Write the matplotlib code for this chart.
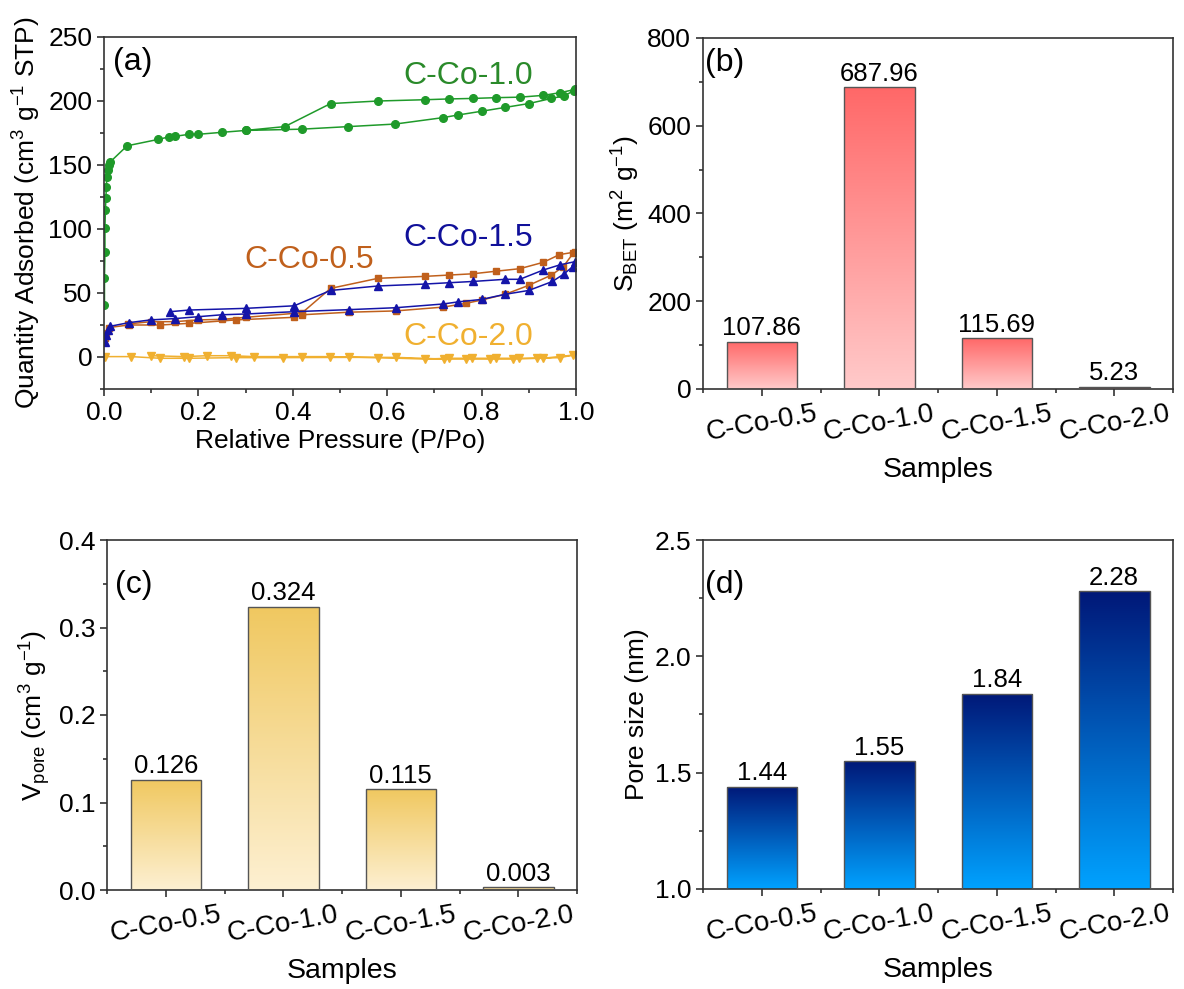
import numpy as np
import matplotlib
matplotlib.use('Agg')
import matplotlib.pyplot as plt
from matplotlib.colors import LinearSegmentedColormap
from matplotlib.ticker import MultipleLocator, FixedLocator, FormatStrFormatter

plt.rcParams['font.family'] = ['Liberation Sans', 'DejaVu Sans']
plt.rcParams['mathtext.fontset'] = 'custom'
plt.rcParams['mathtext.rm'] = 'Liberation Sans'
plt.rcParams['mathtext.it'] = 'Liberation Sans:italic'
plt.rcParams['mathtext.bf'] = 'Liberation Sans:bold'

# ---- data ----
samples = ['C-Co-0.5', 'C-Co-1.0', 'C-Co-1.5', 'C-Co-2.0']
s_bet = [107.86, 687.96, 115.69, 5.23]
v_pore = [0.126, 0.324, 0.115, 0.003]
pore_size = [1.44, 1.55, 1.84, 2.28]

# isotherms: adsorption branch then desorption branch (P/Po, quantity)
co10_p = [0.001, 0.001, 0.002, 0.002, 0.003, 0.004, 0.005, 0.006, 0.008, 0.010, 0.012,
          0.049, 0.115, 0.138, 0.150, 0.181, 0.200, 0.249, 0.300, 0.419, 0.518, 0.617,
          0.718, 0.749, 0.800, 0.850, 0.900, 0.948, 0.975, 0.995,
          0.998, 0.966, 0.931, 0.881, 0.830, 0.781, 0.730, 0.680, 0.581, 0.480, 0.383, 0.300]
co10_q = [41, 62, 82, 101, 115, 124, 133, 141, 146, 150, 152,
          165, 170, 172, 172.4, 174, 174, 175.5, 177, 178, 180, 182,
          187, 189, 192, 195, 198, 202, 204, 208,
          209, 206.5, 204.4, 203, 202.6, 202, 201.6, 201, 200, 198, 180, 177]

co05_p = [0.002, 0.005, 0.010, 0.052, 0.119, 0.181, 0.280, 0.403, 0.420, 0.519, 0.618,
          0.719, 0.768, 0.800, 0.850, 0.900, 0.948, 0.973, 0.994,
          0.998, 0.965, 0.931, 0.881, 0.830, 0.781, 0.730, 0.680, 0.581, 0.480, 0.420,
          0.300, 0.250, 0.200, 0.150, 0.099, 0.050]
co05_q = [15, 19, 23, 25, 25, 26.3, 29, 31, 33, 35, 36,
          39, 42, 44.5, 49, 56, 64, 70.6, 81,
          82, 80, 74, 69, 67, 65, 64, 63, 61.5, 53.6, 34.6,
          31, 29.4, 29, 27.6, 27.6, 25.8]

co15_p = [0.002, 0.005, 0.009, 0.013, 0.052, 0.099, 0.150, 0.200, 0.250, 0.300, 0.403,
          0.519, 0.618, 0.718, 0.749, 0.800, 0.850, 0.900, 0.950, 0.975, 0.993,
          0.998, 0.966, 0.931, 0.881, 0.850, 0.781, 0.730, 0.680, 0.581, 0.480, 0.403,
          0.300, 0.181, 0.140]
co15_q = [12, 17, 21, 24, 26.8, 29, 30, 31.5, 33, 33.6, 35.4,
          37, 38.5, 41.4, 43, 45, 49, 52, 59, 65, 70.6,
          74.5, 72, 68, 60.7, 60.7, 59, 58, 57, 55.5, 52, 40,
          38, 36.7, 35.4]

co20_p = [0.002, 0.058, 0.119, 0.180, 0.280, 0.380, 0.520, 0.618, 0.720, 0.768, 0.818, 0.867,
          0.917, 0.966, 0.994,
          0.930, 0.880, 0.830, 0.780, 0.730, 0.680, 0.580, 0.479, 0.419, 0.318, 0.270,
          0.218, 0.170, 0.099]
co20_q = [0.3, 0.3, -1, -1, -0.5, -0.5, -0.3, -0.3, -1.6, -1.6, -1.6, -1.6,
          -1, -0.5, 1.5,
          -1, -1, -1, -1, -1, -1.6, -0.5, 0.3, 0.3, 0.3, 1,
          1, 0.3, 1]

W, H = 1184, 989
fig = plt.figure(figsize=(W / 100, H / 100), dpi=100)
ax_a = fig.add_axes([104 / W, 1 - 389 / H, 472 / W, 352 / H])
ax_b = fig.add_axes([703 / W, 1 - 389 / H, 470 / W, 351 / H])
ax_c = fig.add_axes([107 / W, 1 - 890 / H, 470 / W, 350 / H])
ax_d = fig.add_axes([703 / W, 1 - 889 / H, 470 / W, 349 / H])

TICK_FS = 19
LABEL_FS = 19
spine_c = '#333333'


def style(ax):
    for s in ax.spines.values():
        s.set_color(spine_c)
        s.set_linewidth(1.2)
    ax.tick_params(which='both', direction='out', top=False, right=False,
                   color=spine_c, width=1.2, labelsize=TICK_FS)
    ax.tick_params(which='major', length=5)
    ax.tick_params(which='minor', length=3)


# ---- (a) isotherms ----
ax_a.plot(co10_p, co10_q, '-o', color='#1f9a2a', ms=5.5, lw=1.1)
ax_a.plot(co05_p, co05_q, '-s', color='#c0601c', ms=4.5, lw=1.1)
ax_a.plot(co15_p, co15_q, '-^', color='#1414a8', ms=5.5, lw=1.1)
ax_a.plot(co20_p, co20_q, '-v', color='#f0b030', ms=5.5, lw=1.1)
ax_a.set_xlim(0, 1.0)
ax_a.set_ylim(-25, 250)
ax_a.xaxis.set_major_locator(MultipleLocator(0.2))
ax_a.xaxis.set_minor_locator(MultipleLocator(0.1))
ax_a.yaxis.set_major_locator(MultipleLocator(50))
ax_a.yaxis.set_minor_locator(MultipleLocator(25))
ax_a.xaxis.set_major_formatter(FormatStrFormatter('%.1f'))
ax_a.set_xlabel('Relative Pressure (P/Po)', fontsize=LABEL_FS, labelpad=3)
ax_a.set_ylabel('Quantity Adsorbed (cm$^3$ g$^{-1}$ STP)', fontsize=LABEL_FS)
style(ax_a)
ax_a.text(0.771, 219.5, 'C-Co-1.0', color='#2a8a2a', fontsize=23, ha='center', va='center')
ax_a.text(0.771, 93, 'C-Co-1.5', color='#10109a', fontsize=23, ha='center', va='center')
ax_a.text(0.434, 76, 'C-Co-0.5', color='#c0601c', fontsize=23, ha='center', va='center')
ax_a.text(0.771, 15.6, 'C-Co-2.0', color='#f0b030', fontsize=23, ha='center', va='center')
ax_a.text(0.02, 0.93, '(a)', transform=ax_a.transAxes, fontsize=23, va='center', ha='left')


def grad_bars(ax, vals, ybot, c_top, c_bot, labels):
    cmap = LinearSegmentedColormap.from_list('g', [c_bot, c_top])
    xs = np.arange(len(vals))
    bars = ax.bar(xs, vals, width=0.6, facecolor='none', edgecolor='#555555',
                  linewidth=1.0, zorder=3)
    grad = np.linspace(0, 1, 256).reshape(-1, 1)
    for b, v in zip(bars, vals):
        x0 = b.get_x()
        im = ax.imshow(grad, cmap=cmap, aspect='auto', origin='lower',
                       extent=[x0, x0 + b.get_width(), ybot, v], zorder=2)
        im.set_clip_path(b)
    for x, v, t in zip(xs, vals, labels):
        ax.annotate(t, (x, v), xytext=(0, 1), textcoords='offset points',
                    ha='center', va='bottom', fontsize=18.5)
    ax.set_xlim(-0.5, len(vals) - 0.5)
    ax.xaxis.set_major_locator(FixedLocator(list(xs)))
    ax.xaxis.set_minor_locator(FixedLocator(list(np.arange(len(vals) + 1) - 0.5)))
    ax.set_xticklabels(samples, rotation=10, ha='center')
    ax.set_xlabel('Samples', fontsize=20.5, labelpad=8)
    style(ax)
    ax.tick_params(axis='x', which='major', labelsize=20)


# ---- (b) BET surface area ----
grad_bars(ax_b, s_bet, 0, '#ff6868', '#ffcaca', [f'{v:.2f}' for v in s_bet])
ax_b.set_ylim(0, 800)
ax_b.yaxis.set_major_locator(MultipleLocator(200))
ax_b.yaxis.set_minor_locator(MultipleLocator(100))
ax_b.set_ylabel('S$_{\\mathrm{BET}}$ (m$^2$ g$^{-1}$)', fontsize=LABEL_FS)
ax_b.text(0.005, 0.93, '(b)', transform=ax_b.transAxes, fontsize=23, va='center', ha='left')

# ---- (c) pore volume ----
grad_bars(ax_c, v_pore, 0, '#f0c860', '#fdf0d2', [f'{v:.3f}' for v in v_pore])
ax_c.set_ylim(0, 0.4)
ax_c.yaxis.set_major_locator(MultipleLocator(0.1))
ax_c.yaxis.set_minor_locator(MultipleLocator(0.05))
ax_c.yaxis.set_major_formatter(FormatStrFormatter('%.1f'))
ax_c.set_ylabel('V$_{\\mathrm{pore}}$ (cm$^3$ g$^{-1}$)', fontsize=LABEL_FS)
ax_c.text(0.018, 0.87, '(c)', transform=ax_c.transAxes, fontsize=23, va='center', ha='left')

# ---- (d) pore size ----
grad_bars(ax_d, pore_size, 1.0, '#001878', '#00a2ff', [f'{v:.2f}' for v in pore_size])
ax_d.set_ylim(1.0, 2.5)
ax_d.yaxis.set_major_locator(MultipleLocator(0.5))
ax_d.yaxis.set_minor_locator(MultipleLocator(0.25))
ax_d.yaxis.set_major_formatter(FormatStrFormatter('%.1f'))
ax_d.set_ylabel('Pore size (nm)', fontsize=LABEL_FS)
ax_d.text(0.005, 0.87, '(d)', transform=ax_d.transAxes, fontsize=23, va='center', ha='left')

fig.savefig('out.png', dpi=100)
